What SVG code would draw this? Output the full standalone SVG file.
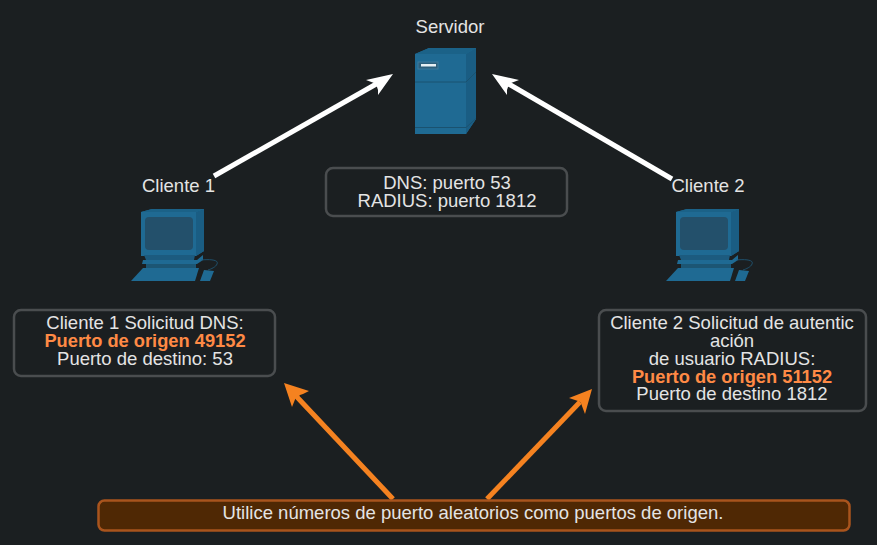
<svg xmlns="http://www.w3.org/2000/svg" width="877" height="545" viewBox="0 0 877 545">
<style>
text{font-family:"Liberation Sans",Arial,sans-serif;font-size:18.5px;fill:#e4e4e4;text-anchor:middle}
.o{fill:#ff8a45;font-weight:bold;font-size:18.3px}
.box{fill:none;stroke:#4a4d4f;stroke-width:2.5}
.lw{stroke:#fff;stroke-width:5;fill:none}
.lo{stroke:#f58220;stroke-width:5;fill:none}
</style>
<defs>
<g id="pc">
<path d="M141 212l11-3h52v42l-8 5h-55z" fill="#1f6a93"/>
<path d="M196 212l8-3v42l-8 5z" fill="#1a5d83"/>
<path d="M141 212l11-3h52l-8 3z" fill="#1b6288"/>
<rect x="145" y="217" width="48" height="33" rx="4" fill="#23506b"/>
<path d="M144 255h51l-1 5h-48z" fill="#1c5b7f"/>
<path d="M143 260h54l6-5v5l-6 4h-55z" fill="#1f6a93"/>
<rect x="146" y="264" width="50" height="4" fill="#1c5674"/>
<path d="M143 268h56l-4 13h-64z" fill="#1f6a93"/>
<path d="M204 270l10 1-4 10h-10z" fill="#1f6a93"/>
<path d="M201 260c10-1 18 0 16 4-1 3-6 5-9 6" fill="none" stroke="#1f5b7c" stroke-width=".8"/>
</g>
</defs>
<rect width="877" height="545" fill="#1b1f21"/>
<g id="connectors">
<path class="lw" d="M214 176L378 83"/><path fill="#fff" d="M393 74l-27 6 8 3 2 2 1 2 1 3 0 5z"/>
<path class="lw" d="M672 179L507 83"/><path fill="#fff" d="M492 74l27 6-8 3-2 2-1 2-1 3 0 5z"/>
<path class="lo" d="M393 499L296 396"/><path fill="#f58220" d="M284 383l8 24 4-10 3-1 1-1 3-1 6-3z"/>
<path class="lo" d="M487 499L580 402"/><path fill="#f58220" d="M592 389l-23 9 9 3 2 1 1 1 1 3 3 8z"/>
</g>
<g id="server">
<text x="450" y="33">Servidor</text>
<path d="M415 54l14-6h47v71l-10 15h-51z" fill="#1f6a93"/>
<path d="M466 54l10-6v71l-10 15z" fill="#1a5d83"/>
<path d="M415 54l14-6h47l-10 6z" fill="#1b6288"/>
<path d="M415 82h51l10-10M415 127.500h51l10-9" stroke="#1a5270" fill="none"/>
<rect x="418" y="62" width="20" height="7" fill="#2c5f7c" stroke="#3e7b9d"/>
<rect x="421" y="64" width="15" height="2.500" fill="#e8f0f4"/>
</g>
<g id="ports"><rect class="box" x="326" y="168" width="241" height="48" rx="7"/>
<text x="447" y="189">DNS: puerto 53</text><text x="447" y="207">RADIUS: puerto 1812</text></g>
<g id="c1"><text x="178.500" y="192">Cliente 1</text><use href="#pc"/></g>
<g id="c2"><text x="708" y="192">Cliente 2</text><use href="#pc" x="535"/></g>
<g id="c1box"><rect class="box" x="14" y="310" width="261" height="66" rx="7"/>
<text x="145" y="329">Cliente 1 Solicitud DNS:</text><text class="o" x="145" y="347">Puerto de origen 49152</text><text x="145" y="365">Puerto de destino: 53</text></g>
<g id="c2box"><rect class="box" x="599" y="310" width="267" height="101" rx="7"/>
<text x="732" y="329">Cliente 2 Solicitud de autentic</text><text x="732" y="347">ación</text><text x="732" y="365">de usuario RADIUS:</text><text class="o" x="732" y="383">Puerto de origen 51152</text><text x="732" y="400">Puerto de destino 1812</text></g>
<g id="note"><rect x="98.500" y="500.500" width="751" height="30" rx="6" fill="#4f2804" stroke="#a9541d" stroke-width="2.500"/>
<text x="473" y="519">Utilice números de puerto aleatorios como puertos de origen.</text></g>
</svg>
